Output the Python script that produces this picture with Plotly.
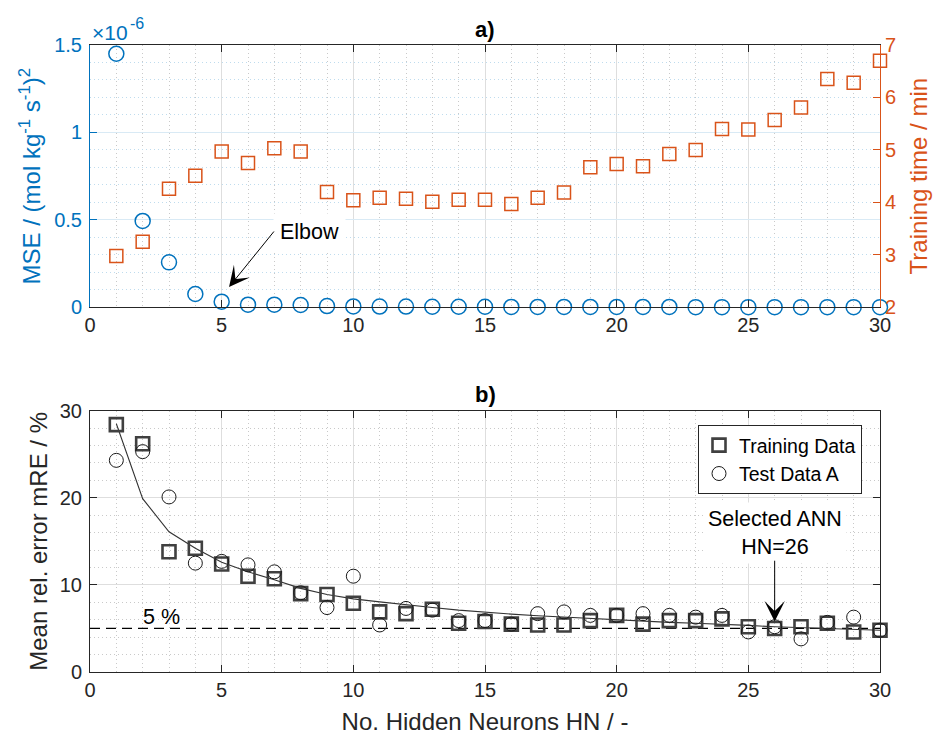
import plotly.graph_objects as go

# ---------------- data ----------------
hn = list(range(1, 31))

# panel a) MSE in units of 1e-6 (mol kg^-1 s^-1)^2
mse_e6 = [1.45, 0.494, 0.257, 0.076, 0.032, 0.015, 0.015, 0.013, 0.007, 0.005,
          0.004, 0.004, 0.003, 0.003, 0.003, 0.002, 0.002, 0.002, 0.002, 0.002,
          0.002, 0.002, 0.001, 0.001, 0.001, 0.001, 0.001, 0.001, 0.001, 0.001]
# panel a) training time / min
train_time = [2.98, 3.25, 4.26, 4.51, 4.97, 4.75, 5.03, 4.97, 4.20, 4.04,
              4.09, 4.07, 4.01, 4.05, 4.05, 3.97, 4.09, 4.19, 4.67, 4.73,
              4.69, 4.92, 5.00, 5.40, 5.39, 5.57, 5.81, 6.35, 6.28, 6.70]

# panel b) mean relative error / %
mre_train = [28.4, 26.2, 13.8, 14.2, 12.4, 11.0, 10.7, 9.0, 8.9, 7.9,
             6.9, 6.7, 7.2, 5.6, 5.8, 5.5, 5.4, 5.4, 5.9, 6.5,
             5.5, 5.9, 5.9, 6.1, 5.2, 5.0, 5.2, 5.6, 4.6, 4.8]
mre_test = [24.3, 25.3, 20.1, 12.5, 12.7, 12.3, 11.5, 9.1, 7.4, 11.0,
            5.4, 7.3, 7.1, 5.9, 5.9, 5.5, 6.7, 6.9, 6.5, 6.5,
            6.7, 6.5, 6.3, 6.5, 4.6, 5.2, 3.8, 5.7, 6.3, 4.8]
mre_fit = [28.5, 19.9, 16.1, 14.2, 12.6, 11.5, 10.6, 9.6, 8.9, 8.4,
           8.05, 7.7, 7.4, 7.1, 6.85, 6.65, 6.45, 6.3, 6.1, 5.95,
           5.85, 5.7, 5.6, 5.5, 5.35, 5.2, 5.1, 5.0, 4.9, 4.8]
threshold = 5
x_ticks = [0, 5, 10, 15, 20, 25, 30]

# ---------------- styling ----------------
FONT = "Liberation Sans"
BLUE = "#0072BD"
ORANGE = "#D95319"
DARK = "#262626"
FT = 20    # tick labels
FL = 24    # axis titles
FA = 21.5  # annotations

W, H = 936, 735
ML, MR, MT, MB = 90, 56, 45, 63
PH = H - MT - MB


def py(p):  # pixel y -> paper y
    return (H - MB - p) / PH


def px(p):  # pixel x -> paper x
    return (p - ML) / (W - ML - MR)


fig = go.Figure()

# panel a)
fig.add_trace(go.Scatter(x=hn, y=mse_e6, mode="markers", xaxis="x", yaxis="y",
                         marker=dict(symbol="circle-open", size=15, color=BLUE,
                                     line=dict(width=1.5, color=BLUE)),
                         cliponaxis=False, showlegend=False))
fig.add_trace(go.Scatter(x=hn, y=train_time, mode="markers", xaxis="x", yaxis="y2",
                         marker=dict(symbol="square-open", size=13, color=ORANGE,
                                     line=dict(width=1.5, color=ORANGE)),
                         cliponaxis=False, showlegend=False))

# panel b)
fig.add_trace(go.Scatter(x=[0, 30], y=[threshold, threshold], mode="lines",
                         xaxis="x2", yaxis="y3",
                         line=dict(color="black", width=1.2, dash="10px,6px"),
                         showlegend=False))
fig.add_trace(go.Scatter(x=hn, y=mre_fit, mode="lines", xaxis="x2", yaxis="y3",
                         line=dict(color="#333333", width=1.1), showlegend=False))
fig.add_trace(go.Scatter(x=hn, y=mre_train, mode="markers", xaxis="x2", yaxis="y3",
                         name="Training Data",
                         marker=dict(symbol="square-open", size=13, color="#404040",
                                     line=dict(width=2.6, color="#404040")),
                         cliponaxis=False))
fig.add_trace(go.Scatter(x=hn, y=mre_test, mode="markers", xaxis="x2", yaxis="y3",
                         name="Test Data A",
                         marker=dict(symbol="circle-open", size=14, color="#1a1a1a",
                                     line=dict(width=1, color="#1a1a1a")),
                         cliponaxis=False))

xcommon = dict(range=[0, 30], tickvals=x_ticks, ticks="inside", ticklen=7,
               tickcolor=DARK, showline=True, linecolor=DARK, linewidth=1,
               mirror="ticks", zeroline=False, showgrid=True,
               gridcolor="#dedede", gridwidth=1,
               tickfont=dict(size=FT, color=DARK, family=FONT),
               minor=dict(dtick=1, tick0=0, showgrid=True, gridcolor="#c9c9c9",
                          griddash="1px,3px", gridwidth=1, ticks=""),
               automargin=False)

fig.update_layout(
    width=W, height=H,
    margin=dict(l=ML, r=MR, t=MT, b=MB, pad=0),
    paper_bgcolor="white", plot_bgcolor="white",
    font=dict(family=FONT, size=FT, color=DARK),
    xaxis=dict(**xcommon, domain=[0, 1], anchor="y"),
    yaxis=dict(domain=[py(307.3), 1], range=[0, 1.5], tickvals=[0, 0.5, 1, 1.5],
               ticktext=["0", "0.5", "1", "1.5"],
               ticks="inside", ticklen=7, tickcolor=BLUE, ticklabelstandoff=3,
               showline=True, linecolor=BLUE, linewidth=1, mirror=False,
               zeroline=False, showgrid=True, gridcolor="#d9eaf5",
               minor=dict(dtick=0.1, tick0=0, showgrid=True, gridcolor="#bfdcee",
                          griddash="1px,3px", gridwidth=1, ticks=""),
               tickfont=dict(size=FT, color=BLUE, family=FONT),
               title=dict(text="MSE / (mol kg<sup>-1</sup> s<sup>-1</sup>)<sup>2</sup>",
                          font=dict(size=FL, color=BLUE, family=FONT), standoff=6),
               anchor="x", automargin=False),
    yaxis2=dict(range=[2, 7], dtick=1, tick0=2, overlaying="y", side="right",
                anchor="x", ticks="inside", ticklen=7, tickcolor=ORANGE,
                showline=True, linecolor=ORANGE, linewidth=1, showgrid=False,
                zeroline=False,
                tickfont=dict(size=FT, color=ORANGE, family=FONT),
                title=dict(text="Training time / min",
                           font=dict(size=FL, color=ORANGE, family=FONT), standoff=15),
                automargin=False),
    xaxis2=dict(**xcommon, domain=[0, 1], anchor="y3",
                title=dict(text="No. Hidden Neurons HN / -",
                           font=dict(size=FL, color=DARK, family=FONT), standoff=15)),
    yaxis3=dict(domain=[0, py(410.7)], range=[0, 30], tickvals=[0, 10, 20, 30],
                ticks="inside", ticklen=7, tickcolor=DARK, ticklabelstandoff=3,
                showline=True, linecolor=DARK, linewidth=1, mirror="ticks",
                zeroline=False, showgrid=True, gridcolor="#dedede",
                minor=dict(dtick=2, tick0=0, showgrid=True, gridcolor="#c9c9c9",
                           griddash="1px,3px", gridwidth=1, ticks=""),
                tickfont=dict(size=FT, color=DARK, family=FONT),
                title=dict(text="Mean rel. error mRE / %",
                           font=dict(size=FL, color=DARK, family=FONT), standoff=5),
                anchor="x2", automargin=False),
    legend=dict(x=px(862), xanchor="right",
                y=py(425), yanchor="top",
                bgcolor="white", bordercolor=DARK, borderwidth=1,
                font=dict(size=19.5, color="black", family=FONT),
                itemsizing="trace", tracegroupgap=0),
    showlegend=True,
)

ann = [
    # panel titles
    dict(text="<b>a)</b>", xref="paper", yref="paper", x=0.5, y=py(30),
         xanchor="center", yanchor="middle", showarrow=False,
         font=dict(size=22, color="black", family=FONT)),
    dict(text="<b>b)</b>", xref="paper", yref="paper", x=0.5, y=py(394),
         xanchor="center", yanchor="middle", showarrow=False,
         font=dict(size=22, color="black", family=FONT)),
    # exponent label
    dict(text="\u00d710", xref="paper", yref="paper", x=px(90),
         y=py(33), xanchor="left", yanchor="middle", showarrow=False,
         font=dict(size=21, color=BLUE, family=FONT)),
    dict(text="-6", xref="paper", yref="paper", x=px(128),
         y=py(24), xanchor="left", yanchor="middle", showarrow=False,
         font=dict(size=16, color=BLUE, family=FONT)),
    # Elbow
    dict(text="Elbow", xref="x", yref="y", x=6.95, y=0.43, xanchor="left",
         yanchor="middle", showarrow=False, bgcolor="white", borderpad=6,
         font=dict(size=FA, color="black", family=FONT)),
    dict(text="", xref="x", yref="y", x=5.28, y=0.116, axref="x", ayref="y",
         ax=7.03, ay=0.442, showarrow=True, arrowhead=3, arrowsize=3.4,
         arrowwidth=1, arrowcolor="black"),
    # 5 %
    dict(text="5 %", xref="x2", yref="y3", x=2.7, y=6.35, xanchor="center",
         yanchor="middle", showarrow=False,
         font=dict(size=FA, color="black", family=FONT)),
    # Selected ANN
    dict(text="Selected ANN<br>HN=26", xref="x2", yref="y3", x=26, y=16.0,
         xanchor="center", yanchor="middle", showarrow=False, bgcolor="white",
         borderpad=4, font=dict(size=FA, color="black", family=FONT)),
    dict(text="", xref="x2", yref="y3", x=26, y=5.8, axref="x2", ayref="y3",
         ax=26, ay=12.95, showarrow=True, arrowhead=3, arrowsize=3.4,
         arrowwidth=1, arrowcolor="black"),
]
fig.update_layout(annotations=ann)

fig.write_html("out.html",
               config={"displayModeBar": False},
               post_script="document.body.style.margin='0';"
                           "document.body.style.overflow='hidden';")
